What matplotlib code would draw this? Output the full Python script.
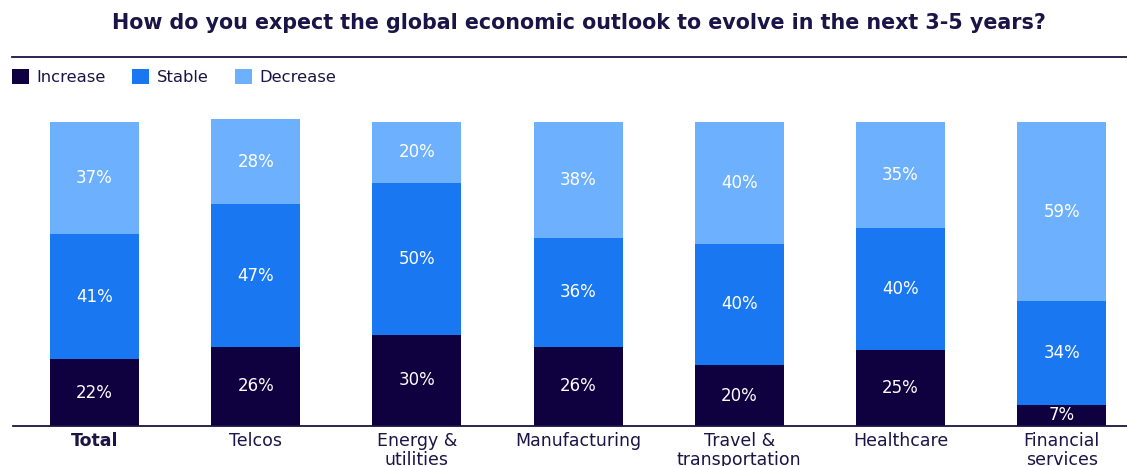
import matplotlib
matplotlib.use("Agg")
import matplotlib.pyplot as plt
from matplotlib.lines import Line2D

# Survey answers per sector (%)
sectors = ["Total", "Telcos", "Energy &\nutilities", "Manufacturing",
           "Travel &\ntransportation", "Healthcare", "Financial\nservices"]
increase = [22, 26, 30, 26, 20, 25, 7]
stable = [41, 47, 50, 36, 40, 40, 34]
decrease = [37, 28, 20, 38, 40, 35, 59]

series_names = ["Increase", "Stable", "Decrease"]
colors = ["#0f0140", "#1a77f2", "#6db0fd"]
navy = "#1b1446"

plt.rcParams["font.family"] = ["DejaVu Sans"]

W, H = 1127, 466
fig = plt.figure(figsize=(W / 100, H / 100), dpi=100)

# plot area in pixel terms: x 13..1127, y 122..426 (top to bottom)
ax = fig.add_axes([13 / W, (H - 426) / H, (W - 13) / W, (426 - 122) / H])

x = list(range(len(sectors)))
bottom = [0] * len(sectors)
for name, vals, col in zip(series_names, [increase, stable, decrease], colors):
    ax.bar(x, vals, width=0.552, bottom=bottom, color=col, label=name,
           clip_on=False, linewidth=0)
    for xi, b, v in zip(x, bottom, vals):
        ax.text(xi, b + v / 2, f"{v}%", ha="center", va="center",
                color="white", fontsize=12)
    bottom = [b + v for b, v in zip(bottom, vals)]

ax.set_xlim(-0.5056, 6.405)
ax.set_ylim(0, 100)
ax.set_yticks([])
for s in ["top", "right", "left"]:
    ax.spines[s].set_visible(False)
ax.spines["bottom"].set_color(navy)
ax.spines["bottom"].set_linewidth(1.3)
ax.set_xticks(x)
ax.set_xticklabels(sectors, fontsize=12.5, color=navy, linespacing=1.1)
ax.tick_params(axis="x", length=0, pad=4)
ax.get_xticklabels()[0].set_fontweight("bold")

fig.text(579 / W, 1 - 23 / H, "How do you expect the global economic outlook to evolve in the next 3-5 years?",
         ha="center", va="center", fontsize=14.9, fontweight="bold", color=navy)
fig.add_artist(Line2D([12 / W, 1], [1 - 57 / H, 1 - 57 / H], color=navy, linewidth=1.3))

fig.legend(loc="upper left", bbox_to_anchor=(12 / W, 1 - 69 / H), ncol=3,
           frameon=False, fontsize=11.8, handlelength=1.05, handleheight=1.05,
           handletextpad=0.45, columnspacing=1.6, borderpad=0, borderaxespad=0,
           labelcolor=navy)

fig.savefig("out.png", dpi=100)
